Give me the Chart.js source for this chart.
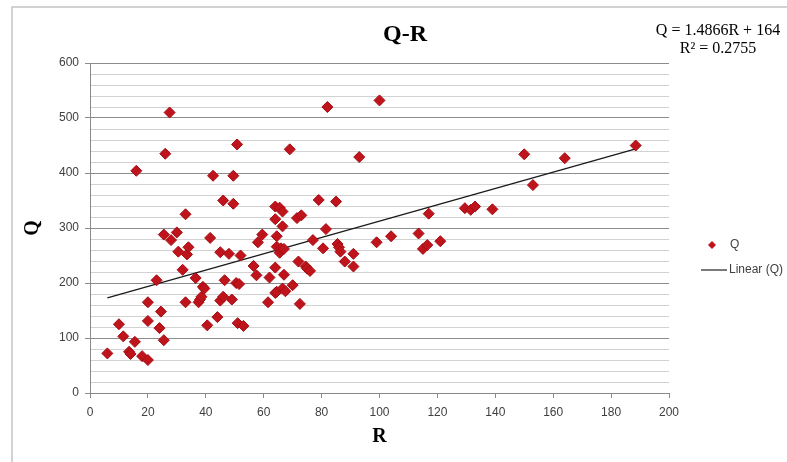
<!DOCTYPE html>
<html>
<head>
<meta charset="utf-8">
<script src="https://cdn.jsdelivr.net/npm/chart.js@4.4.1/dist/chart.umd.min.js"></script>
<style>
  html, body { margin: 0; padding: 0; background: #fff; }
  #wrap { width: 787px; height: 462px; }
</style>
</head>
<body>
<div id="wrap"><canvas id="myChart" width="787" height="462"></canvas></div>
<script>
// data
const rValues = [6, 10, 11.5, 13.5, 14, 15.5, 16, 18, 20, 20, 20, 23, 24, 24.5, 25.5, 25.5, 26, 27.5, 28, 30,
  30.5, 32, 33, 33, 33.5, 34, 36.5, 37.5, 38, 38.5, 39, 39.5, 40.5, 41.5, 42.5, 44, 45, 45, 46, 46,
  46.5, 48, 49, 49.5, 49.5, 50.5, 50.8, 51.5, 51, 52, 53, 56.5, 57.5, 58, 59.5, 61.5, 62, 64, 64, 64,
  64, 64.5, 64.5, 64.5, 65.5, 65.5, 66, 66.5, 66.5, 66.5, 67, 67, 67.5, 69, 70, 71.5, 72, 72.5, 73, 74.5,
  75, 76, 77, 79, 80.5, 81.5, 82, 85, 85.5, 86, 86.5, 88, 91, 91, 93, 99, 100, 104, 113.5, 115,
  116.5, 117, 121, 129.5, 131.5, 133, 139, 150, 153, 164, 188.5];
const qValues = [72, 125, 103, 75, 71, 93, 404, 67, 60, 131, 165, 205, 118, 148, 96, 288, 435, 510, 278, 292,
  257, 224, 165, 325, 252, 265, 209, 165, 170, 175, 193, 190, 123, 282, 395, 138, 256, 168, 175, 350,
  205, 253, 170, 395, 344, 200, 452, 198, 127, 250, 122, 231, 214, 274, 288, 165, 210, 339, 316, 228,
  182, 285, 266, 184, 337, 255, 263, 330, 303, 190, 262, 215, 185, 443, 196, 318, 239, 162, 323, 230,
  226, 222, 278, 351, 263, 298, 520, 348, 271, 265, 257, 239, 253, 230, 429, 274, 532, 285, 290, 262,
  269, 326, 276, 336, 333, 339, 334, 434, 378, 427, 450];

// trend line end points (Linear (Q))
const trendR = [6, 188.5];
const trendQ = [173, 444];

const equationLines = ['Q = 1.4866R + 164', 'R\u00b2 = 0.2755'];
const legendLabels = ['Q', 'Linear (Q)'];

const pointColor = '#c0141c';

const scatterPoints = rValues.map((r, i) => ({ x: r, y: qValues[i] }));
const trendPoints = trendR.map((r, i) => ({ x: r, y: trendQ[i] }));

// frame, title, equation and legend
const decorPlugin = {
  id: 'decor',
  beforeDraw(chart) {
    const ctx = chart.ctx;
    ctx.save();
    ctx.fillStyle = '#fff';
    ctx.fillRect(0, 0, chart.width, chart.height);
    ctx.strokeStyle = '#c4c4c4';
    ctx.lineWidth = 1.5;
    ctx.beginPath();
    ctx.moveTo(12, chart.height);
    ctx.lineTo(12, 7);
    ctx.lineTo(chart.width, 7);
    ctx.stroke();
    ctx.restore();
  },
  afterDraw(chart) {
    const ctx = chart.ctx;
    ctx.save();
    // title
    ctx.fillStyle = '#000';
    ctx.font = 'bold 24px "Liberation Serif"';
    ctx.textAlign = 'center';
    ctx.textBaseline = 'alphabetic';
    ctx.fillText('Q-R', 405, 41);
    // equation
    ctx.font = '16px "Liberation Serif"';
    ctx.fillText(equationLines[0], 718, 35);
    ctx.fillText(equationLines[1], 718, 53);
    // legend
    ctx.fillStyle = pointColor;
    ctx.beginPath();
    ctx.moveTo(712, 241);
    ctx.lineTo(716, 245);
    ctx.lineTo(712, 249);
    ctx.lineTo(708, 245);
    ctx.closePath();
    ctx.fill();
    ctx.strokeStyle = '#222';
    ctx.lineWidth = 1.2;
    ctx.beginPath();
    ctx.moveTo(701, 270);
    ctx.lineTo(727, 270);
    ctx.stroke();
    ctx.fillStyle = '#404040';
    ctx.font = '12px "Liberation Sans"';
    ctx.textAlign = 'left';
    ctx.textBaseline = 'middle';
    ctx.fillText(legendLabels[0], 730, 245);
    ctx.fillText(legendLabels[1], 729, 270);
    ctx.restore();
  }
};

const config = {
  type: 'scatter',
  data: {
    datasets: [{
      label: 'Q',
      data: scatterPoints,
      pointStyle: 'rectRot',
      pointRadius: 5.5,
      pointHoverRadius: 5.5,
      backgroundColor: pointColor,
      borderColor: '#a50d14',
      borderWidth: 1,
      order: 1
    }, {
      type: 'line',
      label: 'Linear (Q)',
      data: trendPoints,
      borderColor: '#1a1a1a',
      borderWidth: 1.3,
      pointRadius: 0,
      fill: false,
      order: 2
    }]
  },
  options: {
    responsive: false,
    animation: false,
    layout: { padding: { left: 0, top: 63, right: 118, bottom: 0 } },
    plugins: {
      legend: { display: false },
      tooltip: { enabled: false },
      title: { display: false }
    },
    scales: {
      x: {
        type: 'linear',
        min: 0,
        max: 200,
        afterFit: (scale) => { scale.height = 69; },
        ticks: {
          stepSize: 20,
          padding: 7,
          color: '#404040',
          font: { family: 'Liberation Sans', size: 12 },
          maxRotation: 0
        },
        grid: { drawOnChartArea: false, tickLength: 5, color: '#8a8a8a' },
        border: { color: '#8a8a8a' },
        title: {
          display: true,
          text: 'R',
          color: '#000',
          font: { family: 'Liberation Serif', size: 20, weight: 'bold' },
          padding: { top: 0, bottom: 13 }
        }
      },
      y: {
        type: 'linear',
        min: 0,
        max: 600,
        afterFit: (scale) => { scale.width = 90; },
        ticks: {
          stepSize: 20,
          autoSkip: false,
          padding: 6,
          color: '#404040',
          font: { family: 'Liberation Sans', size: 12 },
          callback: (v) => (v % 100 === 0 ? v : '')
        },
        grid: {
          tickLength: 5,
          color: (c) => (c.tick && c.tick.value % 100 === 0 ? '#8c8c8c' : '#d2d2d2'),
          tickColor: (c) => (c.tick && c.tick.value % 100 === 0 ? '#8c8c8c' : 'rgba(0,0,0,0)')
        },
        border: { color: '#8a8a8a' },
        title: {
          display: true,
          text: 'Q',
          color: '#000',
          font: { family: 'Liberation Serif', size: 20, weight: 'bold' },
          padding: { top: 21, bottom: 0 }
        }
      }
    }
  },
  plugins: [decorPlugin]
};

const myChart = new Chart(document.getElementById('myChart'), config);
</script>
</body>
</html>
